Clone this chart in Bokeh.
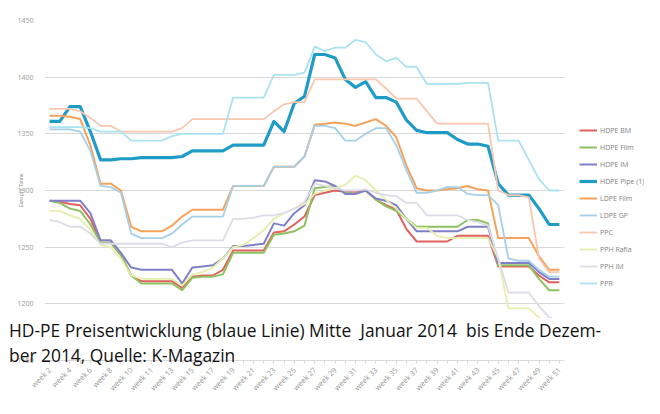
import math
from bokeh.plotting import figure
from bokeh.layouts import column
from bokeh.models import Range1d, FixedTicker, Legend, LegendItem, Div
from bokeh.embed import file_html
from bokeh.resources import INLINE

# ---------------- data ----------------
x_idx = list(range(51))
tick_labels = ["week 2", "week 4", "week 6", "week 8", "week 10", "week 11", "week 13",
               "week 15", "week 17", "week 19", "week 21", "week 23", "week 25", "week 27",
               "week 29", "week 31", "week 33", "week 35", "week 37", "week 39", "week 41",
               "week 43", "week 45", "week 47", "week 49", "week 51"]
y_ticks = [1150, 1200, 1250, 1300, 1350, 1400, 1450]

hdpe_bm = [1291, 1290, 1288, 1287, 1275, 1254, 1254, 1243, 1225, 1220,
           1220, 1220, 1220, 1214, 1224, 1225, 1225, 1230, 1247, 1247,
           1247, 1247, 1263, 1264, 1270, 1277, 1296, 1298, 1300, 1299,
           1299, 1300, 1292, 1287, 1283, 1266, 1255, 1255, 1255, 1255,
           1260, 1260, 1260, 1260, 1233, 1233, 1233, 1233, 1225, 1219,
           1219]
hdpe_film = [1291, 1289, 1284, 1282, 1270, 1254, 1254, 1243, 1225, 1218,
             1218, 1218, 1218, 1212, 1223, 1224, 1224, 1226, 1245, 1245,
             1245, 1245, 1261, 1262, 1264, 1269, 1302, 1303, 1304, 1298,
             1297, 1300, 1292, 1286, 1282, 1275, 1268, 1268, 1268, 1268,
             1268, 1274, 1274, 1271, 1234, 1234, 1234, 1234, 1222, 1212,
             1212]
hdpe_im = [1291, 1291, 1291, 1291, 1280, 1256, 1256, 1245, 1232, 1230,
           1230, 1230, 1230, 1218, 1232, 1233, 1234, 1240, 1251, 1251,
           1252, 1253, 1271, 1269, 1280, 1287, 1309, 1308, 1304, 1297,
           1297, 1300, 1293, 1291, 1287, 1275, 1264, 1264, 1264, 1264,
           1264, 1268, 1268, 1268, 1236, 1236, 1236, 1236, 1228, 1222,
           1222]
hdpe_pipe = [1361, 1361, 1374, 1374, 1352, 1327, 1327, 1328, 1328, 1329,
             1329, 1329, 1329, 1330, 1335, 1335, 1335, 1335, 1340, 1340,
             1340, 1340, 1361, 1352, 1377, 1383, 1420, 1420, 1417, 1398,
             1391, 1396, 1382, 1382, 1378, 1362, 1353, 1351, 1351, 1351,
             1345, 1341, 1341, 1339, 1306, 1296, 1296, 1296, 1284, 1270,
             1270]
ldpe_film = [1366, 1366, 1365, 1363, 1340, 1306, 1306, 1300, 1268, 1264,
             1264, 1264, 1269, 1277, 1283, 1283, 1283, 1283, 1304, 1304,
             1304, 1304, 1321, 1321, 1321, 1330, 1358, 1359, 1360, 1359,
             1357, 1360, 1363, 1357, 1347, 1322, 1302, 1300, 1300, 1301,
             1302, 1304, 1301, 1300, 1258, 1258, 1258, 1258, 1242, 1230,
             1230]
ldpe_gp = [1354, 1354, 1354, 1352, 1335, 1304, 1303, 1298, 1262, 1258,
           1258, 1258, 1262, 1270, 1277, 1277, 1277, 1277, 1304, 1304,
           1304, 1304, 1321, 1321, 1321, 1330, 1357, 1357, 1355, 1344,
           1344, 1350, 1355, 1355, 1340, 1318, 1298, 1298, 1300, 1303,
           1303, 1297, 1296, 1296, 1287, 1240, 1238, 1238, 1230, 1224,
           1224]
ppc = [1372, 1372, 1372, 1370, 1364, 1357, 1357, 1352, 1352, 1352,
       1352, 1352, 1352, 1355, 1363, 1363, 1363, 1363, 1363, 1363,
       1363, 1363, 1370, 1376, 1378, 1378, 1398, 1398, 1398, 1398,
       1398, 1398, 1398, 1390, 1381, 1381, 1381, 1370, 1359, 1359,
       1359, 1359, 1359, 1359, 1300, 1296, 1296, 1294, 1240, 1228,
       1228]
pph_rafia = [1282, 1282, 1278, 1275, 1265, 1252, 1250, 1240, 1225, 1222,
             1222, 1222, 1222, 1216, 1226, 1228, 1232, 1240, 1250, 1252,
             1258, 1265, 1275, 1280, 1284, 1288, 1297, 1300, 1302, 1305,
             1313, 1309, 1300, 1292, 1284, 1275, 1267, 1267, 1260, 1258,
             1258, 1258, 1258, 1258, 1240, 1196, 1196, 1196, 1188, 1178,
             1175]
pph_im = [1274, 1272, 1268, 1268, 1262, 1253, 1253, 1253, 1253, 1253,
          1253, 1253, 1250, 1254, 1256, 1256, 1256, 1256, 1275, 1275,
          1276, 1278, 1278, 1280, 1284, 1290, 1306, 1304, 1302, 1300,
          1300, 1301, 1298, 1296, 1295, 1289, 1289, 1278, 1278, 1278,
          1278, 1274, 1272, 1269, 1240, 1210, 1210, 1210, 1198, 1188,
          1185]
ppr = [1356, 1356, 1356, 1356, 1355, 1352, 1352, 1352, 1344, 1344,
       1344, 1344, 1348, 1350, 1350, 1350, 1350, 1350, 1382, 1382,
       1382, 1382, 1402, 1402, 1402, 1404, 1427, 1423, 1426, 1426,
       1433, 1431, 1420, 1414, 1417, 1409, 1409, 1394, 1394, 1394,
       1394, 1395, 1395, 1395, 1344, 1344, 1344, 1327, 1310, 1300,
       1300]

series_names = ["HDPE BM", "HDPE Film", "HDPE IM", "HDPE Pipe (1)", "LDPE Film",
                "LDPE GP", "PPC", "PPH Rafia", "PPH IM", "PPR"]
series_values = [hdpe_bm, hdpe_film, hdpe_im, hdpe_pipe, ldpe_film,
                 ldpe_gp, ppc, pph_rafia, pph_im, ppr]
series_colors = ["#e0625e", "#8fc162", "#7f80c8", "#1f9cc6", "#f6a25a",
                 "#a6d0ea", "#f9c6b0", "#e4efac", "#dcdce8", "#abe2f2"]
series_widths = [2, 2, 2, 3.2, 2, 1.8, 1.8, 1.8, 1.8, 1.8]

caption_line1 = "HD-PE Preisentwicklung (blaue Linie) Mitte&nbsp; Januar 2014&nbsp; bis Ende Dezem-"
caption_line2 = "ber 2014, Quelle: K-Magazin"

# ---------------- figure ----------------
# the frame runs to the right edge so the legend (drawn inside it) is not clipped;
# the category area covers the first 520 px of the 600 px frame
n_cat = len(x_idx)
x_end = -0.5 + n_cat * 600.0 / 520.0
p = figure(width=644, height=398, output_backend="svg", toolbar_location=None,
           x_range=Range1d(-0.5, x_end), y_range=Range1d(1150, 1450),
           min_border_left=44, min_border_right=0, min_border_top=20, min_border_bottom=36)
p.outline_line_color = None
p.background_fill_color = "white"
p.border_fill_color = "white"

items = []
for name, vals, col, w in zip(series_names, series_values, series_colors, series_widths):
    r = p.line(x_idx, vals, line_color=col, line_width=w, line_join="round")
    items.append(LegendItem(label=name, renderers=[r]))

# grid
p.xgrid.grid_line_color = None
p.ygrid.grid_line_color = "#d9d9d9"
p.ygrid.grid_line_width = 1
p.ygrid.cross_bounds = (-0.5, n_cat - 0.5)

# y axis
p.yaxis.ticker = FixedTicker(ticks=y_ticks)
p.yaxis.axis_line_color = None
p.yaxis.major_tick_line_color = None
p.yaxis.minor_tick_line_color = None
p.yaxis.major_label_text_color = "#9a9a9a"
p.yaxis.major_label_text_font = "Open Sans"
p.yaxis.major_label_text_font_size = "7px"
p.yaxis.major_label_standoff = 5
p.yaxis.axis_label = "Euro pro Tonne"
p.yaxis.axis_label_text_font_size = "5px"
p.yaxis.axis_label_text_font_style = "normal"
p.yaxis.axis_label_text_color = "#8a8a8a"
p.yaxis.axis_label_standoff = -10

# x axis
tick_pos = list(range(0, 51, 2))
p.xaxis.ticker = FixedTicker(ticks=tick_pos, minor_ticks=x_idx)
p.xaxis.bounds = (-0.5, n_cat - 0.5)
p.xaxis.major_label_overrides = {pos: lab for pos, lab in zip(tick_pos, tick_labels)}
p.xaxis.major_label_orientation = math.pi / 4
p.xaxis.major_label_text_color = "#9a9a9a"
p.xaxis.major_label_text_font = "Open Sans"
p.xaxis.major_label_text_font_size = "7.5px"
p.xaxis.axis_line_color = "#d9d9d9"
p.xaxis.major_tick_line_color = "#d9d9d9"
p.xaxis.minor_tick_line_color = "#d9d9d9"
p.xaxis.major_tick_out = 3
p.xaxis.major_tick_in = 0
p.xaxis.minor_tick_out = 3
p.xaxis.minor_tick_in = 0
p.xaxis.major_label_standoff = 5

# legend to the right of the category area
legend = Legend(items=items, location=(535, 69), padding=0, margin=0, spacing=1,
                glyph_width=18, glyph_height=16, label_height=16, label_standoff=3,
                label_text_font="Open Sans", label_text_font_size="7px",
                label_text_color="#7f7f7f", background_fill_alpha=0, border_line_alpha=0)
p.add_layout(legend, "center")

# caption overlaid on the lower part of the chart
cap = Div(text='<div style="padding-left:9px"><span style="background:#ffffff">' + caption_line1
               + '</span><br>' + caption_line2 + '</div>',
          width=636, height=52, margin=(-80, 0, 0, 0),
          styles={"font-family": "'Open Sans', sans-serif", "font-size": "17.4px",
                  "line-height": "25px", "color": "#111111", "white-space": "nowrap",
                  "position": "relative", "z-index": "5"})

layout = column(p, cap, spacing=0)

open("out.html", "w").write(file_html(layout, INLINE))
